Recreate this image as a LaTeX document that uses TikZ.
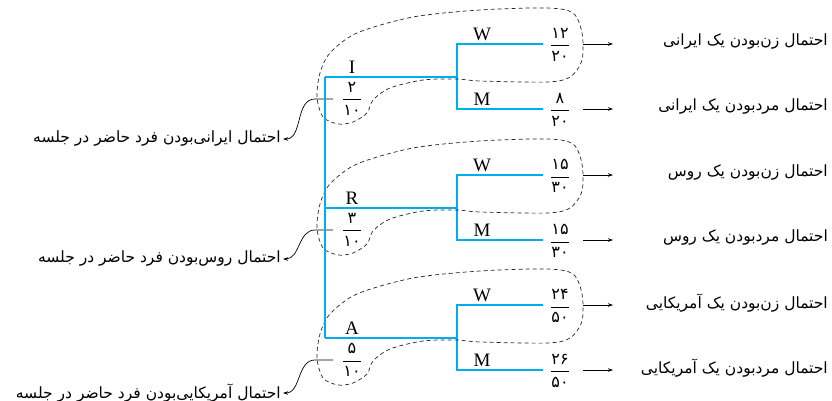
\documentclass[tikz,border=0pt]{standalone}
\usepackage{fontspec}
\setmainfont{Liberation Serif}
\newfontfamily\fa[Script=Arabic]{DejaVu Sans}
\TeXXeTstate=1
\usetikzlibrary{arrows.meta}
\definecolor{treeblue}{RGB}{0,174,239}
\tikzstyle{branch} = [draw=treeblue, line width=2.4pt]
\tikzstyle{blob} = [draw=black!85, dash pattern=on 4pt off 3pt, line width=0.7pt]
\tikzstyle{lead} = [draw, line width=0.7pt, -{Stealth[length=5pt,width=3.5pt]}]
\tikzstyle{lbl} = [font=\fontsize{19}{22}\selectfont, inner sep=1pt]
\tikzstyle{frc} = [font=\fontsize{16}{18}\selectfont, inner sep=0pt]
\tikzstyle{fatext} = [font=\fa\fontsize{15.5}{18}\selectfont, inner sep=2pt]
\newcommand{\fr}[2]{$\displaystyle\frac{\mbox{\fa #1}}{\mbox{\fa #2}}$}

\begin{document}
\begin{tikzpicture}[x=1pt,y=-1pt]
\useasboundingbox (0,0) rectangle (832,401);

\foreach \g/\dy/\ty/\pn/\pd/\nw/\dw/\nm/\dm/\who in {
    I/0/139/۲/۱۰/۱۲/۲۰/۸/۲۰/ایرانی,
    R/131/128/۳/۱۰/۱۵/۳۰/۱۵/۳۰/روس,
    A/261/132/۵/۱۰/۲۴/۵۰/۲۶/۵۰/آمریکایی} {
\begin{scope}[shift={(0,\dy)}]
% tree
\coordinate (\g) at (325,77);
\coordinate (\g s) at (457,77);
\coordinate (\g W) at (543,44);
\coordinate (\g M) at (543,109);
\draw[branch] (\g) -- (\g s);
\draw[branch] (\g W) -| (\g s) |- (\g M);
\node[lbl,above] (\g l) at (352,75) {\g};
\node[frc] (\g f) at (352,99) {\fr{\pn}{\pd}};
\node[lbl,above] (\g wl) at (482,42) {W};
\node[lbl,above] (\g ml) at (482,107) {M};
\node[frc] (\g wf) at (560,45) {\fr{\nw}{\dw}};
\node[frc] (\g mf) at (560,110) {\fr{\nm}{\dm}};

% dashed group
\draw[blob] plot[smooth cycle] coordinates {
    (323,117) (317,97) (320,73) (330,53) (357,33) (413,17) (480,10)
    (547,8) (573,13) (582,33) (582,60) (570,77) (547,82) (480,81)
    (457,79) (423,80) (390,88) (373,100) (367,113) (353,122) (338,124)};

% right arrows and texts
\coordinate (\g ws) at (583,44);
\coordinate (\g we) at (613,44);
\coordinate (\g ms) at (583,109);
\coordinate (\g me) at (613,109);
\draw[lead] (\g ws) -- (\g we);
\draw[lead] (\g ms) -- (\g me);
\node[fatext,anchor=east] (\g wt) at (830,42) {\beginR احتمال زن‌بودن یک \who\endR};
\node[fatext,anchor=east] (\g mt) at (830,107) {\beginR احتمال مردبودن یک \who\endR};

% left text
\coordinate (\g c) at (333,99);
\node[fatext,anchor=east] (\g t) at (283,\ty) {\beginR احتمال {\who}‌بودن فرد حاضر در جلسه\endR};
\draw[lead] (\g c) -- ++(-18,0) to[out=180,in=0] (\g t.east);
\end{scope}
}

\draw[branch] (I) -- (A);
\end{tikzpicture}
\end{document}
